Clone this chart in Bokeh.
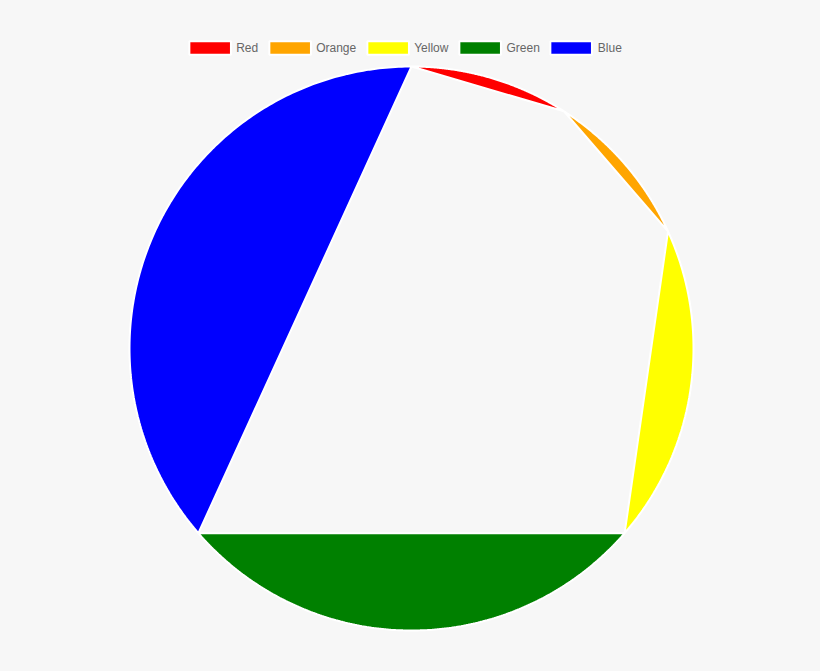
import numpy as np
from bokeh.plotting import figure
from bokeh.models import Range1d, ColumnDataSource, Legend, LegendItem, GlobalInlineStyleSheet
from bokeh.embed import file_html
from bokeh.resources import INLINE

labels = ["Red", "Orange", "Yellow", "Green", "Blue"]
values = [10, 10, 20, 30, 40]
colors = ["#ff0000", "#ffa500", "#ffff00", "#008000", "#0000ff"]

W, H = 805, 655
CX, CY = 411, 348   # centre in screen px from top-left of the figure
R = 282

p = figure(width=W, height=H, output_backend="svg", toolbar_location=None,
           x_range=Range1d(-CX, W - CX), y_range=Range1d(-(H - CY), CY),
           min_border=0, background_fill_color="#f7f7f7", border_fill_color="#f7f7f7")
p.axis.visible = False
p.grid.visible = False
p.outline_line_color = None
p.stylesheets = [GlobalInlineStyleSheet(css="html, body { background: #f7f7f7; }")]

total = float(sum(values))
cum = np.concatenate([[0.0], np.cumsum(values)]) / total * 2 * np.pi
xs, ys = [], []
for i in range(len(values)):
    a0, a1 = cum[i], cum[i + 1]   # clockwise from 12 o'clock
    t = np.linspace(a0, a1, 200)
    theta = np.pi / 2 - t
    xs.append(list(R * np.cos(theta)))
    ys.append(list(R * np.sin(theta)))

items = []
for i in range(len(values)):
    src = ColumnDataSource(dict(xs=[xs[i]], ys=[ys[i]]))
    r = p.patches("xs", "ys", source=src, fill_color=colors[i], line_color="white", line_width=2)
    items.append(LegendItem(label=labels[i], renderers=[r]))

legend = Legend(items=items, orientation="horizontal", location="top_center",
                glyph_width=52, glyph_height=17, label_height=17, label_standoff=1,
                spacing=5, padding=0, margin=39,
                label_text_font="Liberation Sans", label_text_font_size="12px",
                label_text_color="#666666", background_fill_alpha=0, border_line_color=None)
p.add_layout(legend)

open("out.html", "w").write(file_html(p, INLINE))
